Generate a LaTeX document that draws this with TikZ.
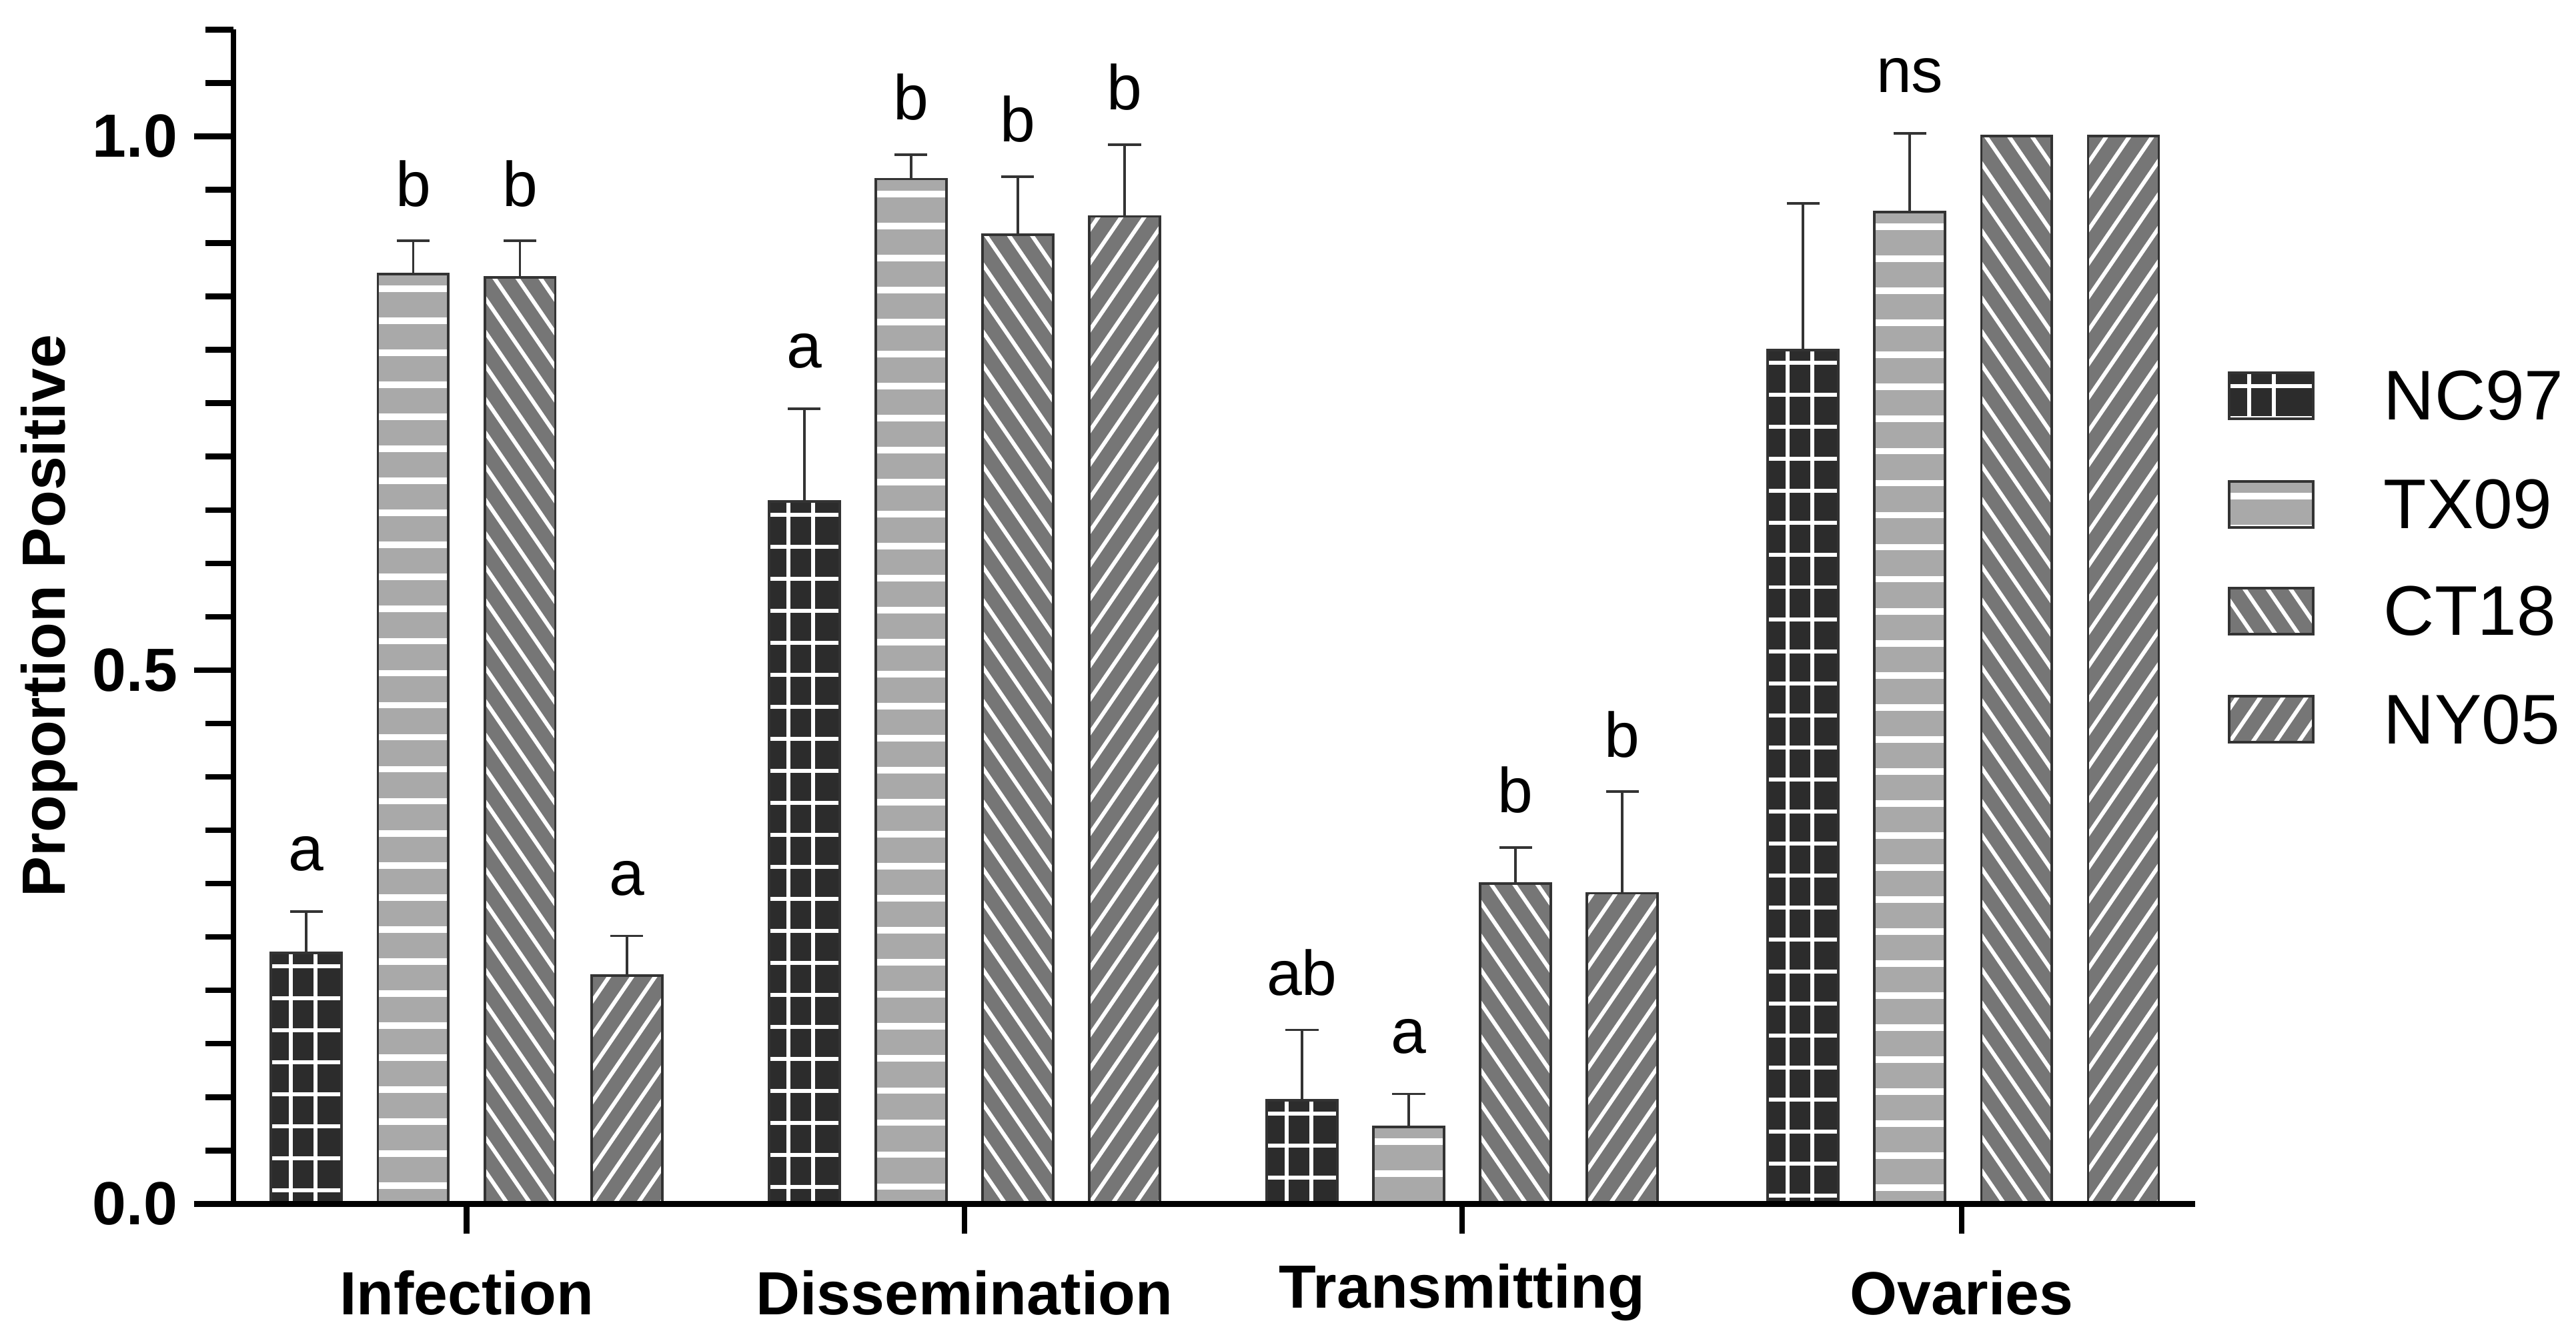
\documentclass[tikz,border=0pt]{standalone}
\usepackage{fontspec}
\setmainfont{Liberation Sans}
\definecolor{ncc}{HTML}{2C2C2C}
\definecolor{txc}{HTML}{A9A9A9}
\definecolor{dgc}{HTML}{767676}
\newcommand\patbar[5]{%
  \begin{scope}
  \clip (#1,#3) rectangle (#2,#4);
  \ifcase#5
    \fill[ncc] (#1,#3) rectangle (#2,#4);
    \foreach \k in {0,...,45} \draw[wl] (#1-5,#4-8-\k*19.5) -- (#2+5,#4-8-\k*19.5);
    \draw[wl] (#1+12,#3) -- (#1+12,#4);
    \draw[wl] (#1+27,#3) -- (#1+27,#4);
  \or
    \fill[txc] (#1,#3) rectangle (#2,#4);
    \foreach \k in {0,...,45} \draw[wl,line width=2.8pt] (#1-5,#4-9-\k*19.5) -- (#2+5,#4-9-\k*19.5);
  \or
    \fill[dgc] (#1,#3) rectangle (#2,#4);
    \foreach \k in {-3,...,60} \draw[wl] (#1+\k*14,#3) -- ++(-500,730);
  \or
    \fill[dgc] (#1,#3) rectangle (#2,#4);
    \foreach \k in {-40,...,4} \draw[wl] (#1+\k*14,#3) -- ++(500,730);
  \fi
  \end{scope}
  \draw[bl] (#1,#3) rectangle (#2,#4);
}
% #1 center x, #2 value, #3 error top, #4 type, #5 letter
\newcommand\mybar[5]{%
  \patbar{#1-21.5}{#1+21.5}{81}{81+650*#2}{#4}
  \ifdim #3pt>#2pt
    \draw[bl] (#1,81+650*#2) -- (#1,81+650*#3);
    \draw[bl] (#1-10,81+650*#3) -- (#1+10,81+650*#3);
  \fi
  \node[lett] at (#1,81+650*#3+35) {#5};
}
\begin{document}
\begin{tikzpicture}[x=0.02463cm,y=0.02463cm,
  wl/.style={white,line width=1.7pt},
  bl/.style={black!80,line width=1.1pt},
  ax/.style={black,line width=2.4pt},
  lett/.style={font=\fontsize{27}{30}\selectfont},
  tl/.style={font=\bfseries\fontsize{26}{30}\selectfont},
  leg/.style={font=\fontsize{30}{34}\selectfont,anchor=west}]
\useasboundingbox (0,0) rectangle (1568,814);
% bars: Infection
\mybar{186.5}{0.235}{0.274}{0}{a}
\mybar{251.5}{0.871}{0.902}{1}{b}
\mybar{316.5}{0.868}{0.902}{2}{b}
\mybar{381.5}{0.214}{0.251}{3}{a}
% Dissemination
\mybar{489.5}{0.658}{0.745}{0}{a}
\mybar{554.5}{0.960}{0.983}{1}{b}
\mybar{619.5}{0.908}{0.962}{2}{b}
\mybar{684.5}{0.925}{0.992}{3}{b}
% Transmitting
\mybar{792.5}{0.097}{0.163}{0}{ab}
\mybar{857.5}{0.072}{0.103}{1}{a}
\mybar{922.5}{0.300}{0.334}{2}{b}
\mybar{987.5}{0.291}{0.386}{3}{b}
% Ovaries
\mybar{1097.5}{0.800}{0.937}{0}{}
\mybar{1162.5}{0.929}{1.003}{1}{ns}
\mybar{1227.5}{1.0}{1.0}{2}{}
\mybar{1292.5}{1.0}{1.0}{3}{}
% axes
\draw[ax] (142,81) -- (142,796);
\draw[ax] (118,81) -- (1336,81);
\foreach \v in {1,...,22} \draw[ax] (125,81+32.5*\v) -- (142,81+32.5*\v);
\draw[ax] (118,406) -- (142,406);
\draw[ax] (118,731) -- (142,731);
\foreach \cx/\lab [count=\i] in {284/Infection,587/Dissemination,890/Transmitting,1194/Ovaries}{
  \draw[ax] (\cx,81) -- (\cx,63);
  \node[tl] (cat\i) at (\cx,27) {\lab};
}
\node[tl,anchor=east] (y0) at (113,81) {0.0};
\node[tl,anchor=east] (y5) at (113,406) {0.5};
\node[tl,anchor=east] (y10) at (113,731) {1.0};
\node[tl,rotate=90] (ylab) at (30,439) {Proportion Positive};
% legend
\foreach \t/\n/\yy in {0/NC97/573,1/TX09/507,2/CT18/442,3/NY05/376}{
  \patbar{1357}{1408}{\yy-14}{\yy+14}{\t}
  \node[leg] (leg\t) at (1446,\yy) {\n};
}
\end{tikzpicture}
\end{document}
